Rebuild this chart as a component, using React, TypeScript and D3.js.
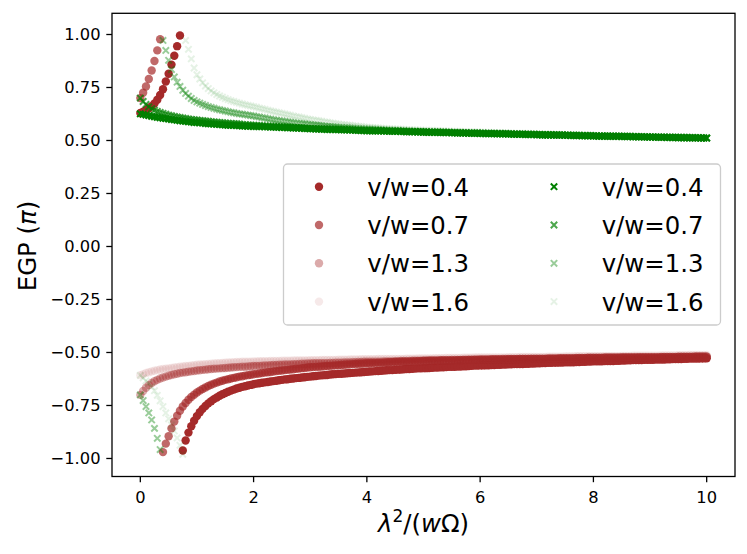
import * as d3 from 'd3';
import React, { useEffect } from 'react';

const W = 747;
const H = 554;

// sample positions along λ²/(wΩ): 0, 0.05, ..., 10
const X = d3.range(0, 201).map(i => +(i * 0.05).toFixed(2));

const RATIOS = ['0.4', '0.7', '1.3', '1.6'];
const ALPHAS = [1, 0.7, 0.4, 0.1];
const Y_TICKS = [-1, -0.75, -0.5, -0.25, 0, 0.25, 0.5, 0.75, 1];
const X_TICKS = [0, 2, 4, 6, 8, 10];

// circles (brown)
const brown04 = [
  0.630, 0.636, 0.643, 0.652, 0.662, 0.675, 0.692, 0.715, 0.742, 0.778,
  0.815, 0.858, 0.900, 0.945, 0.995, -0.962, -0.915, -0.878, -0.848, -0.822,
  -0.800, -0.782, -0.766, -0.752, -0.740, -0.730, -0.720, -0.712, -0.704, -0.697,
  -0.691, -0.685, -0.680, -0.675, -0.670, -0.666, -0.662, -0.659, -0.656, -0.653,
  -0.650,
  -0.647, -0.645, -0.643, -0.641, -0.639, -0.637, -0.635, -0.633, -0.631, -0.629,
  -0.627, -0.626, -0.624, -0.623, -0.621, -0.620, -0.618, -0.617, -0.615, -0.614,
  -0.612, -0.611, -0.609, -0.608, -0.607, -0.606, -0.604, -0.603, -0.602, -0.601,
  -0.600, -0.599, -0.598, -0.597, -0.596, -0.595, -0.594, -0.593, -0.592, -0.591,
  -0.590, -0.589, -0.588, -0.587, -0.586, -0.585, -0.584, -0.583, -0.583, -0.582,
  -0.581, -0.580, -0.579, -0.578, -0.578, -0.577, -0.576, -0.575, -0.575, -0.574,
  -0.574, -0.573, -0.572, -0.571, -0.571, -0.570, -0.570, -0.569, -0.568, -0.567,
  -0.567, -0.566, -0.566, -0.565, -0.565, -0.564, -0.563, -0.562, -0.562, -0.561,
  -0.561, -0.560, -0.560, -0.559, -0.559, -0.558, -0.558, -0.557, -0.557, -0.556,
  -0.556, -0.555, -0.555, -0.554, -0.554, -0.553, -0.553, -0.552, -0.552, -0.551,
  -0.551, -0.550, -0.550, -0.549, -0.549, -0.548, -0.548, -0.547, -0.547, -0.546,
  -0.546, -0.546, -0.546, -0.545, -0.545, -0.544, -0.544, -0.543, -0.543, -0.542,
  -0.542, -0.541, -0.541, -0.540, -0.540, -0.540, -0.540, -0.539, -0.539, -0.538,
  -0.538, -0.537, -0.537, -0.536, -0.536, -0.536, -0.536, -0.535, -0.535, -0.534,
  -0.534, -0.533, -0.533, -0.533, -0.533, -0.532, -0.532, -0.531, -0.531, -0.531,
  -0.531, -0.530, -0.530, -0.529, -0.529, -0.529, -0.529, -0.528, -0.528, -0.527,
];
const brown07 = [
  0.700, 0.725, 0.755, 0.790, 0.830, 0.875, 0.925, 0.978, -0.970, -0.930,
  -0.895, -0.858, -0.826, -0.798, -0.775, -0.755, -0.738, -0.723, -0.710, -0.699,
  -0.689, -0.680, -0.672, -0.665, -0.658, -0.652, -0.647, -0.642, -0.637, -0.633,
  -0.629, -0.626, -0.623, -0.620, -0.617, -0.614, -0.612, -0.609, -0.607, -0.605,
  -0.603,
  -0.601, -0.599, -0.597, -0.595, -0.593, -0.592, -0.590, -0.588, -0.586, -0.585,
  -0.583, -0.582, -0.580, -0.579, -0.577, -0.576, -0.574, -0.573, -0.571, -0.570,
  -0.569, -0.568, -0.567, -0.566, -0.565, -0.564, -0.563, -0.562, -0.561, -0.560,
  -0.559, -0.558, -0.557, -0.556, -0.555, -0.554, -0.553, -0.553, -0.552, -0.551,
  -0.551, -0.550, -0.550, -0.549, -0.549, -0.548, -0.547, -0.546, -0.546, -0.545,
  -0.545, -0.544, -0.544, -0.543, -0.543, -0.542, -0.542, -0.541, -0.541, -0.540,
  -0.540, -0.539, -0.539, -0.539, -0.539, -0.538, -0.538, -0.538, -0.538, -0.537,
  -0.537, -0.536, -0.536, -0.536, -0.536, -0.535, -0.535, -0.535, -0.535, -0.534,
  -0.534, -0.534, -0.534, -0.533, -0.533, -0.533, -0.533, -0.533, -0.533, -0.532,
  -0.532, -0.532, -0.532, -0.531, -0.531, -0.531, -0.531, -0.530, -0.530, -0.530,
  -0.530, -0.530, -0.530, -0.529, -0.529, -0.529, -0.529, -0.528, -0.528, -0.528,
  -0.528, -0.528, -0.528, -0.527, -0.527, -0.527, -0.527, -0.526, -0.526, -0.526,
  -0.526, -0.526, -0.526, -0.525, -0.525, -0.525, -0.525, -0.525, -0.525, -0.524,
  -0.524, -0.524, -0.524, -0.524, -0.524, -0.523, -0.523, -0.523, -0.523, -0.523,
  -0.523, -0.523, -0.523, -0.522, -0.522, -0.522, -0.522, -0.522, -0.522, -0.521,
  -0.521, -0.521, -0.521, -0.521, -0.521, -0.520, -0.520, -0.520, -0.520, -0.520,
];
const brown13 = [
  -0.700, -0.682, -0.666, -0.654, -0.644, -0.636, -0.629, -0.623, -0.618, -0.614,
  -0.610, -0.606, -0.603, -0.600, -0.597, -0.595, -0.593, -0.591, -0.589, -0.587,
  -0.585, -0.584, -0.582, -0.581, -0.579, -0.578, -0.577, -0.576, -0.575, -0.574,
  -0.573, -0.572, -0.571, -0.570, -0.569, -0.568, -0.567, -0.567, -0.566, -0.565,
  -0.564,
  -0.563, -0.563, -0.562, -0.561, -0.561, -0.560, -0.559, -0.559, -0.558, -0.558,
  -0.557, -0.557, -0.556, -0.555, -0.555, -0.554, -0.553, -0.553, -0.552, -0.552,
  -0.551, -0.551, -0.550, -0.550, -0.550, -0.550, -0.549, -0.549, -0.548, -0.548,
  -0.548, -0.547, -0.547, -0.547, -0.546, -0.546, -0.545, -0.545, -0.544, -0.544,
  -0.544, -0.543, -0.543, -0.543, -0.543, -0.542, -0.542, -0.542, -0.542, -0.541,
  -0.541, -0.540, -0.540, -0.540, -0.540, -0.539, -0.539, -0.539, -0.539, -0.538,
  -0.538, -0.537, -0.537, -0.537, -0.537, -0.536, -0.536, -0.536, -0.536, -0.535,
  -0.535, -0.535, -0.535, -0.534, -0.534, -0.534, -0.534, -0.533, -0.533, -0.533,
  -0.533, -0.533, -0.533, -0.532, -0.532, -0.532, -0.532, -0.531, -0.531, -0.531,
  -0.531, -0.531, -0.531, -0.530, -0.530, -0.530, -0.530, -0.529, -0.529, -0.529,
  -0.529, -0.529, -0.529, -0.528, -0.528, -0.528, -0.528, -0.527, -0.527, -0.527,
  -0.527, -0.527, -0.527, -0.526, -0.526, -0.526, -0.526, -0.525, -0.525, -0.525,
  -0.525, -0.525, -0.525, -0.524, -0.524, -0.524, -0.524, -0.524, -0.524, -0.523,
  -0.523, -0.523, -0.523, -0.523, -0.523, -0.522, -0.522, -0.522, -0.522, -0.522,
  -0.522, -0.522, -0.522, -0.521, -0.521, -0.521, -0.521, -0.521, -0.521, -0.520,
  -0.520, -0.520, -0.520, -0.520, -0.520, -0.519, -0.519, -0.519, -0.519, -0.519,
];
const brown16 = [
  -0.607, -0.602, -0.597, -0.593, -0.589, -0.586, -0.583, -0.580, -0.578, -0.576,
  -0.575, -0.573, -0.571, -0.569, -0.567, -0.566, -0.564, -0.563, -0.561, -0.560,
  -0.558, -0.557, -0.556, -0.555, -0.554, -0.553, -0.552, -0.551, -0.550, -0.549,
  -0.548, -0.547, -0.547, -0.546, -0.545, -0.545, -0.544, -0.544, -0.543, -0.543,
  -0.542,
  -0.542, -0.541, -0.541, -0.541, -0.541, -0.540, -0.540, -0.540, -0.540, -0.539,
  -0.539, -0.539, -0.539, -0.538, -0.538, -0.537, -0.537, -0.537, -0.537, -0.536,
  -0.536, -0.536, -0.536, -0.535, -0.535, -0.535, -0.535, -0.535, -0.535, -0.534,
  -0.534, -0.534, -0.534, -0.533, -0.533, -0.533, -0.533, -0.532, -0.532, -0.532,
  -0.532, -0.532, -0.532, -0.531, -0.531, -0.531, -0.531, -0.530, -0.530, -0.530,
  -0.530, -0.530, -0.530, -0.529, -0.529, -0.529, -0.529, -0.528, -0.528, -0.528,
  -0.528, -0.528, -0.528, -0.527, -0.527, -0.527, -0.527, -0.526, -0.526, -0.526,
  -0.526, -0.526, -0.526, -0.525, -0.525, -0.525, -0.525, -0.524, -0.524, -0.524,
  -0.524, -0.524, -0.524, -0.523, -0.523, -0.523, -0.523, -0.523, -0.523, -0.522,
  -0.522, -0.522, -0.522, -0.521, -0.521, -0.521, -0.521, -0.521, -0.521, -0.521,
  -0.521, -0.521, -0.521, -0.520, -0.520, -0.520, -0.520, -0.520, -0.520, -0.519,
  -0.519, -0.519, -0.519, -0.518, -0.518, -0.518, -0.518, -0.518, -0.518, -0.518,
  -0.518, -0.518, -0.518, -0.517, -0.517, -0.517, -0.517, -0.517, -0.517, -0.516,
  -0.516, -0.516, -0.516, -0.515, -0.515, -0.515, -0.515, -0.515, -0.515, -0.515,
  -0.515, -0.515, -0.515, -0.514, -0.514, -0.514, -0.514, -0.514, -0.514, -0.513,
  -0.513, -0.513, -0.513, -0.512, -0.512, -0.512, -0.512, -0.512, -0.512, -0.512,
];

// crosses (green)
const green04 = [
  0.626, 0.623, 0.620, 0.617, 0.614, 0.612, 0.609, 0.607, 0.605, 0.603,
  0.601, 0.599, 0.597, 0.595, 0.593, 0.591, 0.590, 0.588, 0.587, 0.585,
  0.584, 0.583, 0.582, 0.580, 0.579, 0.578, 0.577, 0.576, 0.575, 0.574,
  0.573, 0.572, 0.571, 0.571, 0.570, 0.569, 0.568, 0.568, 0.567, 0.567,
  0.566,
  0.566, 0.565, 0.565, 0.564, 0.564, 0.563, 0.563, 0.562, 0.562, 0.561,
  0.561, 0.560, 0.560, 0.559, 0.559, 0.558, 0.557, 0.556, 0.556, 0.555,
  0.555, 0.554, 0.554, 0.553, 0.553, 0.552, 0.552, 0.551, 0.551, 0.551,
  0.550, 0.550, 0.550, 0.549, 0.549, 0.548, 0.548, 0.547, 0.547, 0.546,
  0.546, 0.545, 0.545, 0.545, 0.545, 0.544, 0.544, 0.543, 0.543, 0.543,
  0.543, 0.542, 0.542, 0.541, 0.541, 0.541, 0.541, 0.540, 0.540, 0.539,
  0.539, 0.538, 0.538, 0.538, 0.538, 0.537, 0.537, 0.537, 0.537, 0.536,
  0.536, 0.535, 0.535, 0.535, 0.535, 0.534, 0.534, 0.534, 0.534, 0.533,
  0.533, 0.532, 0.532, 0.532, 0.532, 0.531, 0.531, 0.531, 0.531, 0.530,
  0.530, 0.529, 0.529, 0.529, 0.529, 0.528, 0.528, 0.528, 0.528, 0.527,
  0.527, 0.526, 0.526, 0.526, 0.526, 0.525, 0.525, 0.525, 0.525, 0.524,
  0.524, 0.523, 0.523, 0.523, 0.523, 0.522, 0.522, 0.522, 0.522, 0.521,
  0.521, 0.520, 0.520, 0.520, 0.520, 0.519, 0.519, 0.519, 0.519, 0.518,
  0.518, 0.518, 0.518, 0.517, 0.517, 0.517, 0.517, 0.516, 0.516, 0.516,
  0.516, 0.515, 0.515, 0.515, 0.515, 0.514, 0.514, 0.514, 0.514, 0.513,
  0.513, 0.513, 0.513, 0.512, 0.512, 0.512, 0.512, 0.511, 0.511, 0.511,
];
const green07 = [
  0.700, 0.684, 0.670, 0.659, 0.650, 0.643, 0.637, 0.632, 0.628, 0.624,
  0.620, 0.617, 0.614, 0.611, 0.609, 0.606, 0.604, 0.602, 0.600, 0.598,
  0.597, 0.595, 0.594, 0.592, 0.591, 0.589, 0.588, 0.587, 0.585, 0.584,
  0.583, 0.582, 0.581, 0.580, 0.579, 0.578, 0.576, 0.575, 0.574, 0.573,
  0.572,
  0.571, 0.571, 0.570, 0.569, 0.568, 0.568, 0.567, 0.566, 0.565, 0.565,
  0.564, 0.564, 0.563, 0.562, 0.561, 0.561, 0.560, 0.559, 0.558, 0.558,
  0.557, 0.557, 0.556, 0.556, 0.555, 0.555, 0.554, 0.554, 0.553, 0.553,
  0.552, 0.552, 0.551, 0.551, 0.550, 0.549, 0.548, 0.548, 0.547, 0.547,
  0.547, 0.546, 0.546, 0.546, 0.546, 0.545, 0.545, 0.544, 0.544, 0.544,
  0.544, 0.543, 0.543, 0.542, 0.542, 0.542, 0.542, 0.541, 0.541, 0.540,
  0.540, 0.539, 0.539, 0.539, 0.539, 0.538, 0.538, 0.538, 0.538, 0.537,
  0.537, 0.536, 0.536, 0.536, 0.536, 0.535, 0.535, 0.535, 0.535, 0.534,
  0.534, 0.533, 0.533, 0.533, 0.533, 0.532, 0.532, 0.532, 0.532, 0.531,
  0.531, 0.530, 0.530, 0.530, 0.530, 0.529, 0.529, 0.529, 0.529, 0.528,
  0.528, 0.527, 0.527, 0.527, 0.527, 0.526, 0.526, 0.526, 0.526, 0.525,
  0.525, 0.524, 0.524, 0.524, 0.524, 0.523, 0.523, 0.523, 0.523, 0.522,
  0.522, 0.521, 0.521, 0.521, 0.521, 0.520, 0.520, 0.520, 0.520, 0.519,
  0.519, 0.519, 0.519, 0.518, 0.518, 0.518, 0.518, 0.517, 0.517, 0.517,
  0.517, 0.516, 0.516, 0.516, 0.516, 0.515, 0.515, 0.515, 0.515, 0.514,
  0.514, 0.514, 0.514, 0.513, 0.513, 0.513, 0.513, 0.512, 0.512, 0.512,
];
const green13 = [
  -0.700, -0.727, -0.755, -0.785, -0.818, -0.858, -0.905, -0.958, 0.972, 0.925,
  0.878, 0.835, 0.800, 0.775, 0.755, 0.737, 0.722, 0.709, 0.698, 0.689,
  0.682, 0.676, 0.670, 0.665, 0.660, 0.656, 0.652, 0.648, 0.645, 0.642,
  0.639, 0.636, 0.633, 0.631, 0.628, 0.626, 0.624, 0.622, 0.620, 0.618,
  0.616,
  0.613, 0.611, 0.608, 0.606, 0.603, 0.601, 0.598, 0.596, 0.594, 0.592,
  0.590, 0.588, 0.586, 0.584, 0.582, 0.581, 0.579, 0.578, 0.576, 0.575,
  0.573, 0.572, 0.571, 0.570, 0.568, 0.567, 0.566, 0.565, 0.564, 0.563,
  0.562, 0.561, 0.560, 0.559, 0.558, 0.557, 0.556, 0.556, 0.555, 0.554,
  0.554, 0.553, 0.552, 0.551, 0.551, 0.550, 0.549, 0.549, 0.548, 0.547,
  0.547, 0.546, 0.546, 0.545, 0.545, 0.544, 0.544, 0.543, 0.543, 0.542,
  0.542, 0.541, 0.541, 0.540, 0.540, 0.540, 0.540, 0.539, 0.539, 0.538,
  0.538, 0.538, 0.538, 0.537, 0.537, 0.536, 0.536, 0.536, 0.536, 0.535,
  0.535, 0.534, 0.534, 0.534, 0.534, 0.533, 0.533, 0.533, 0.533, 0.532,
  0.532, 0.531, 0.531, 0.531, 0.531, 0.530, 0.530, 0.530, 0.530, 0.529,
  0.529, 0.528, 0.528, 0.528, 0.528, 0.527, 0.527, 0.527, 0.527, 0.526,
  0.526, 0.525, 0.525, 0.525, 0.525, 0.524, 0.524, 0.524, 0.524, 0.523,
  0.523, 0.522, 0.522, 0.522, 0.522, 0.521, 0.521, 0.521, 0.521, 0.520,
  0.520, 0.520, 0.520, 0.519, 0.519, 0.518, 0.518, 0.518, 0.518, 0.517,
  0.517, 0.517, 0.517, 0.516, 0.516, 0.516, 0.516, 0.515, 0.515, 0.515,
  0.515, 0.514, 0.514, 0.514, 0.514, 0.513, 0.513, 0.513, 0.513, 0.512,
];
const green16 = [
  -0.608, -0.620, -0.634, -0.646, -0.662, -0.680, -0.702, -0.728, -0.755, -0.785,
  -0.813, -0.842, -0.870, -0.903, -0.938, -0.980, 0.972, 0.930, 0.885, 0.842,
  0.810, 0.790, 0.772, 0.757, 0.745, 0.734, 0.725, 0.717, 0.710, 0.704,
  0.698, 0.693, 0.688, 0.684, 0.680, 0.676, 0.672, 0.669, 0.666, 0.663,
  0.660,
  0.657, 0.653, 0.650, 0.647, 0.643, 0.640, 0.637, 0.634, 0.631, 0.628,
  0.625, 0.622, 0.619, 0.616, 0.613, 0.611, 0.608, 0.605, 0.602, 0.600,
  0.597, 0.595, 0.593, 0.591, 0.588, 0.586, 0.584, 0.582, 0.580, 0.578,
  0.576, 0.575, 0.573, 0.572, 0.570, 0.569, 0.567, 0.566, 0.564, 0.563,
  0.562, 0.561, 0.560, 0.559, 0.558, 0.557, 0.556, 0.555, 0.555, 0.554,
  0.553, 0.553, 0.552, 0.551, 0.551, 0.550, 0.550, 0.549, 0.549, 0.548,
  0.548, 0.547, 0.547, 0.546, 0.546, 0.545, 0.545, 0.544, 0.544, 0.543,
  0.543, 0.543, 0.543, 0.542, 0.542, 0.541, 0.541, 0.540, 0.540, 0.539,
  0.539, 0.538, 0.538, 0.537, 0.537, 0.537, 0.537, 0.536, 0.536, 0.535,
  0.535, 0.534, 0.534, 0.534, 0.534, 0.533, 0.533, 0.532, 0.532, 0.531,
  0.531, 0.530, 0.530, 0.530, 0.530, 0.529, 0.529, 0.528, 0.528, 0.528,
  0.528, 0.527, 0.527, 0.526, 0.526, 0.526, 0.526, 0.525, 0.525, 0.524,
  0.524, 0.523, 0.523, 0.523, 0.523, 0.522, 0.522, 0.522, 0.522, 0.521,
  0.521, 0.521, 0.521, 0.520, 0.520, 0.519, 0.519, 0.519, 0.519, 0.518,
  0.518, 0.518, 0.518, 0.517, 0.517, 0.517, 0.517, 0.516, 0.516, 0.516,
  0.516, 0.515, 0.515, 0.515, 0.515, 0.514, 0.514, 0.514, 0.514, 0.513,
];

const BROWN = [brown04, brown07, brown13, brown16];
const GREEN = [green04, green07, green13, green16];

const FONT = 'DejaVu Sans';
const R = 4.2; // circle radius
const ARM = 3.2; // cross half-size
const crossPath = (h: number) => `M${-h},${-h}L${h},${h}M${-h},${h}L${h},${-h}`;

export default function App() {
  const ref = React.useRef<SVGSVGElement>(null);

  useEffect(() => {
    if (!ref.current) return;
    const svg = d3.select(ref.current);
    svg.selectAll('*').remove();

    const left = 112, right = 735, top = 13.3, bottom = 476.5;
    const x = d3.scaleLinear().domain([-0.5, 10.5]).range([left, right]);
    const y = d3.scaleLinear().domain([-1.085, 1.1]).range([bottom, top]);

    svg.append('rect').attr('width', W).attr('height', H).attr('fill', '#fff');

    svg
      .append('defs')
      .append('clipPath')
      .attr('id', 'plot-clip')
      .append('rect')
      .attr('x', left)
      .attr('y', top)
      .attr('width', right - left)
      .attr('height', bottom - top);

    const plot = svg.append('g').attr('clip-path', 'url(#plot-clip)');

    // brown circles first, green crosses drawn over them
    BROWN.forEach((vals, k) => {
      plot
        .append('g')
        .selectAll('circle')
        .data(vals.slice(0, X.length))
        .enter()
        .append('circle')
        .attr('cx', (d, i) => x(X[i]))
        .attr('cy', d => y(d))
        .attr('r', R)
        .attr('fill', '#a52a2a')
        .attr('fill-opacity', ALPHAS[k]);
    });
    GREEN.forEach((vals, k) => {
      plot
        .append('g')
        .selectAll('path')
        .data(vals.slice(0, X.length))
        .enter()
        .append('path')
        .attr('d', crossPath(ARM))
        .attr('transform', (d, i) => `translate(${x(X[i])},${y(d)})`)
        .attr('fill', 'none')
        .attr('stroke', '#008000')
        .attr('stroke-width', 2)
        .attr('stroke-opacity', ALPHAS[k]);
    });

    // frame
    svg
      .append('rect')
      .attr('x', left)
      .attr('y', top)
      .attr('width', right - left)
      .attr('height', bottom - top)
      .attr('fill', 'none')
      .attr('stroke', '#000')
      .attr('stroke-width', 1.3);

    const fmt = (v: number) => v.toFixed(2).replace('-', '\u2212');

    // y ticks
    const yt = svg.append('g');
    Y_TICKS.forEach(v => {
      yt.append('line')
        .attr('x1', left - 5.7)
        .attr('x2', left)
        .attr('y1', y(v))
        .attr('y2', y(v))
        .attr('stroke', '#000')
        .attr('stroke-width', 1.3);
      yt.append('text')
        .attr('x', left - 11.5)
        .attr('y', y(v) + 5.9)
        .attr('text-anchor', 'end')
        .attr('font-family', FONT)
        .attr('font-size', 16.3)
        .text(fmt(v));
    });

    // x ticks
    const xt = svg.append('g');
    X_TICKS.forEach(v => {
      xt.append('line')
        .attr('x1', x(v))
        .attr('x2', x(v))
        .attr('y1', bottom)
        .attr('y2', bottom + 5.7)
        .attr('stroke', '#000')
        .attr('stroke-width', 1.3);
      xt.append('text')
        .attr('x', x(v))
        .attr('y', bottom + 26)
        .attr('text-anchor', 'middle')
        .attr('font-family', FONT)
        .attr('font-size', 16.3)
        .text(String(v));
    });

    // axis labels
    const xl = svg
      .append('text')
      .attr('x', (left + right) / 2)
      .attr('y', 532)
      .attr('text-anchor', 'middle')
      .attr('font-family', FONT)
      .attr('font-size', 24.4);
    xl.append('tspan').attr('font-style', 'italic').text('\u03bb');
    xl.append('tspan').attr('font-size', 17).attr('dy', -10).text('2');
    xl.append('tspan').attr('dy', 10).text('/(');
    xl.append('tspan').attr('font-style', 'italic').text('w');
    xl.append('tspan').text('\u03a9)');

    const yl = svg
      .append('text')
      .attr('transform', 'translate(36,246) rotate(-90)')
      .attr('text-anchor', 'middle')
      .attr('font-family', FONT)
      .attr('font-size', 24.4);
    yl.append('tspan').text('EGP (');
    yl.append('tspan').attr('font-style', 'italic').text('\u03c0');
    yl.append('tspan').text(')');

    // legend
    const lg = svg.append('g');
    lg.append('rect')
      .attr('x', 283.5)
      .attr('y', 164)
      .attr('width', 437)
      .attr('height', 161)
      .attr('rx', 4)
      .attr('fill', '#fff')
      .attr('fill-opacity', 0.8)
      .attr('stroke', '#cccccc')
      .attr('stroke-width', 1.3);

    const rowY = (i: number) => 186.7 + i * 38.3;
    RATIOS.forEach((r, i) => {
      lg.append('circle')
        .attr('cx', 319)
        .attr('cy', rowY(i))
        .attr('r', R)
        .attr('fill', '#a52a2a')
        .attr('fill-opacity', ALPHAS[i]);
      lg.append('text')
        .attr('x', 367.3)
        .attr('y', rowY(i) + 8.9)
        .attr('font-family', FONT)
        .attr('font-size', 24.4)
        .text(`v/w=${r}`);
      lg.append('path')
        .attr('d', crossPath(ARM))
        .attr('transform', `translate(554,${rowY(i)})`)
        .attr('fill', 'none')
        .attr('stroke', '#008000')
        .attr('stroke-width', 2)
        .attr('stroke-opacity', ALPHAS[i]);
      lg.append('text')
        .attr('x', 601.7)
        .attr('y', rowY(i) + 8.9)
        .attr('font-family', FONT)
        .attr('font-size', 24.4)
        .text(`v/w=${r}`);
    });
  }, []);

  return (
    <svg
      ref={ref}
      width={W}
      height={H}
      style={{ position: 'absolute', left: 0, top: 0 }}
    />
  );
}
